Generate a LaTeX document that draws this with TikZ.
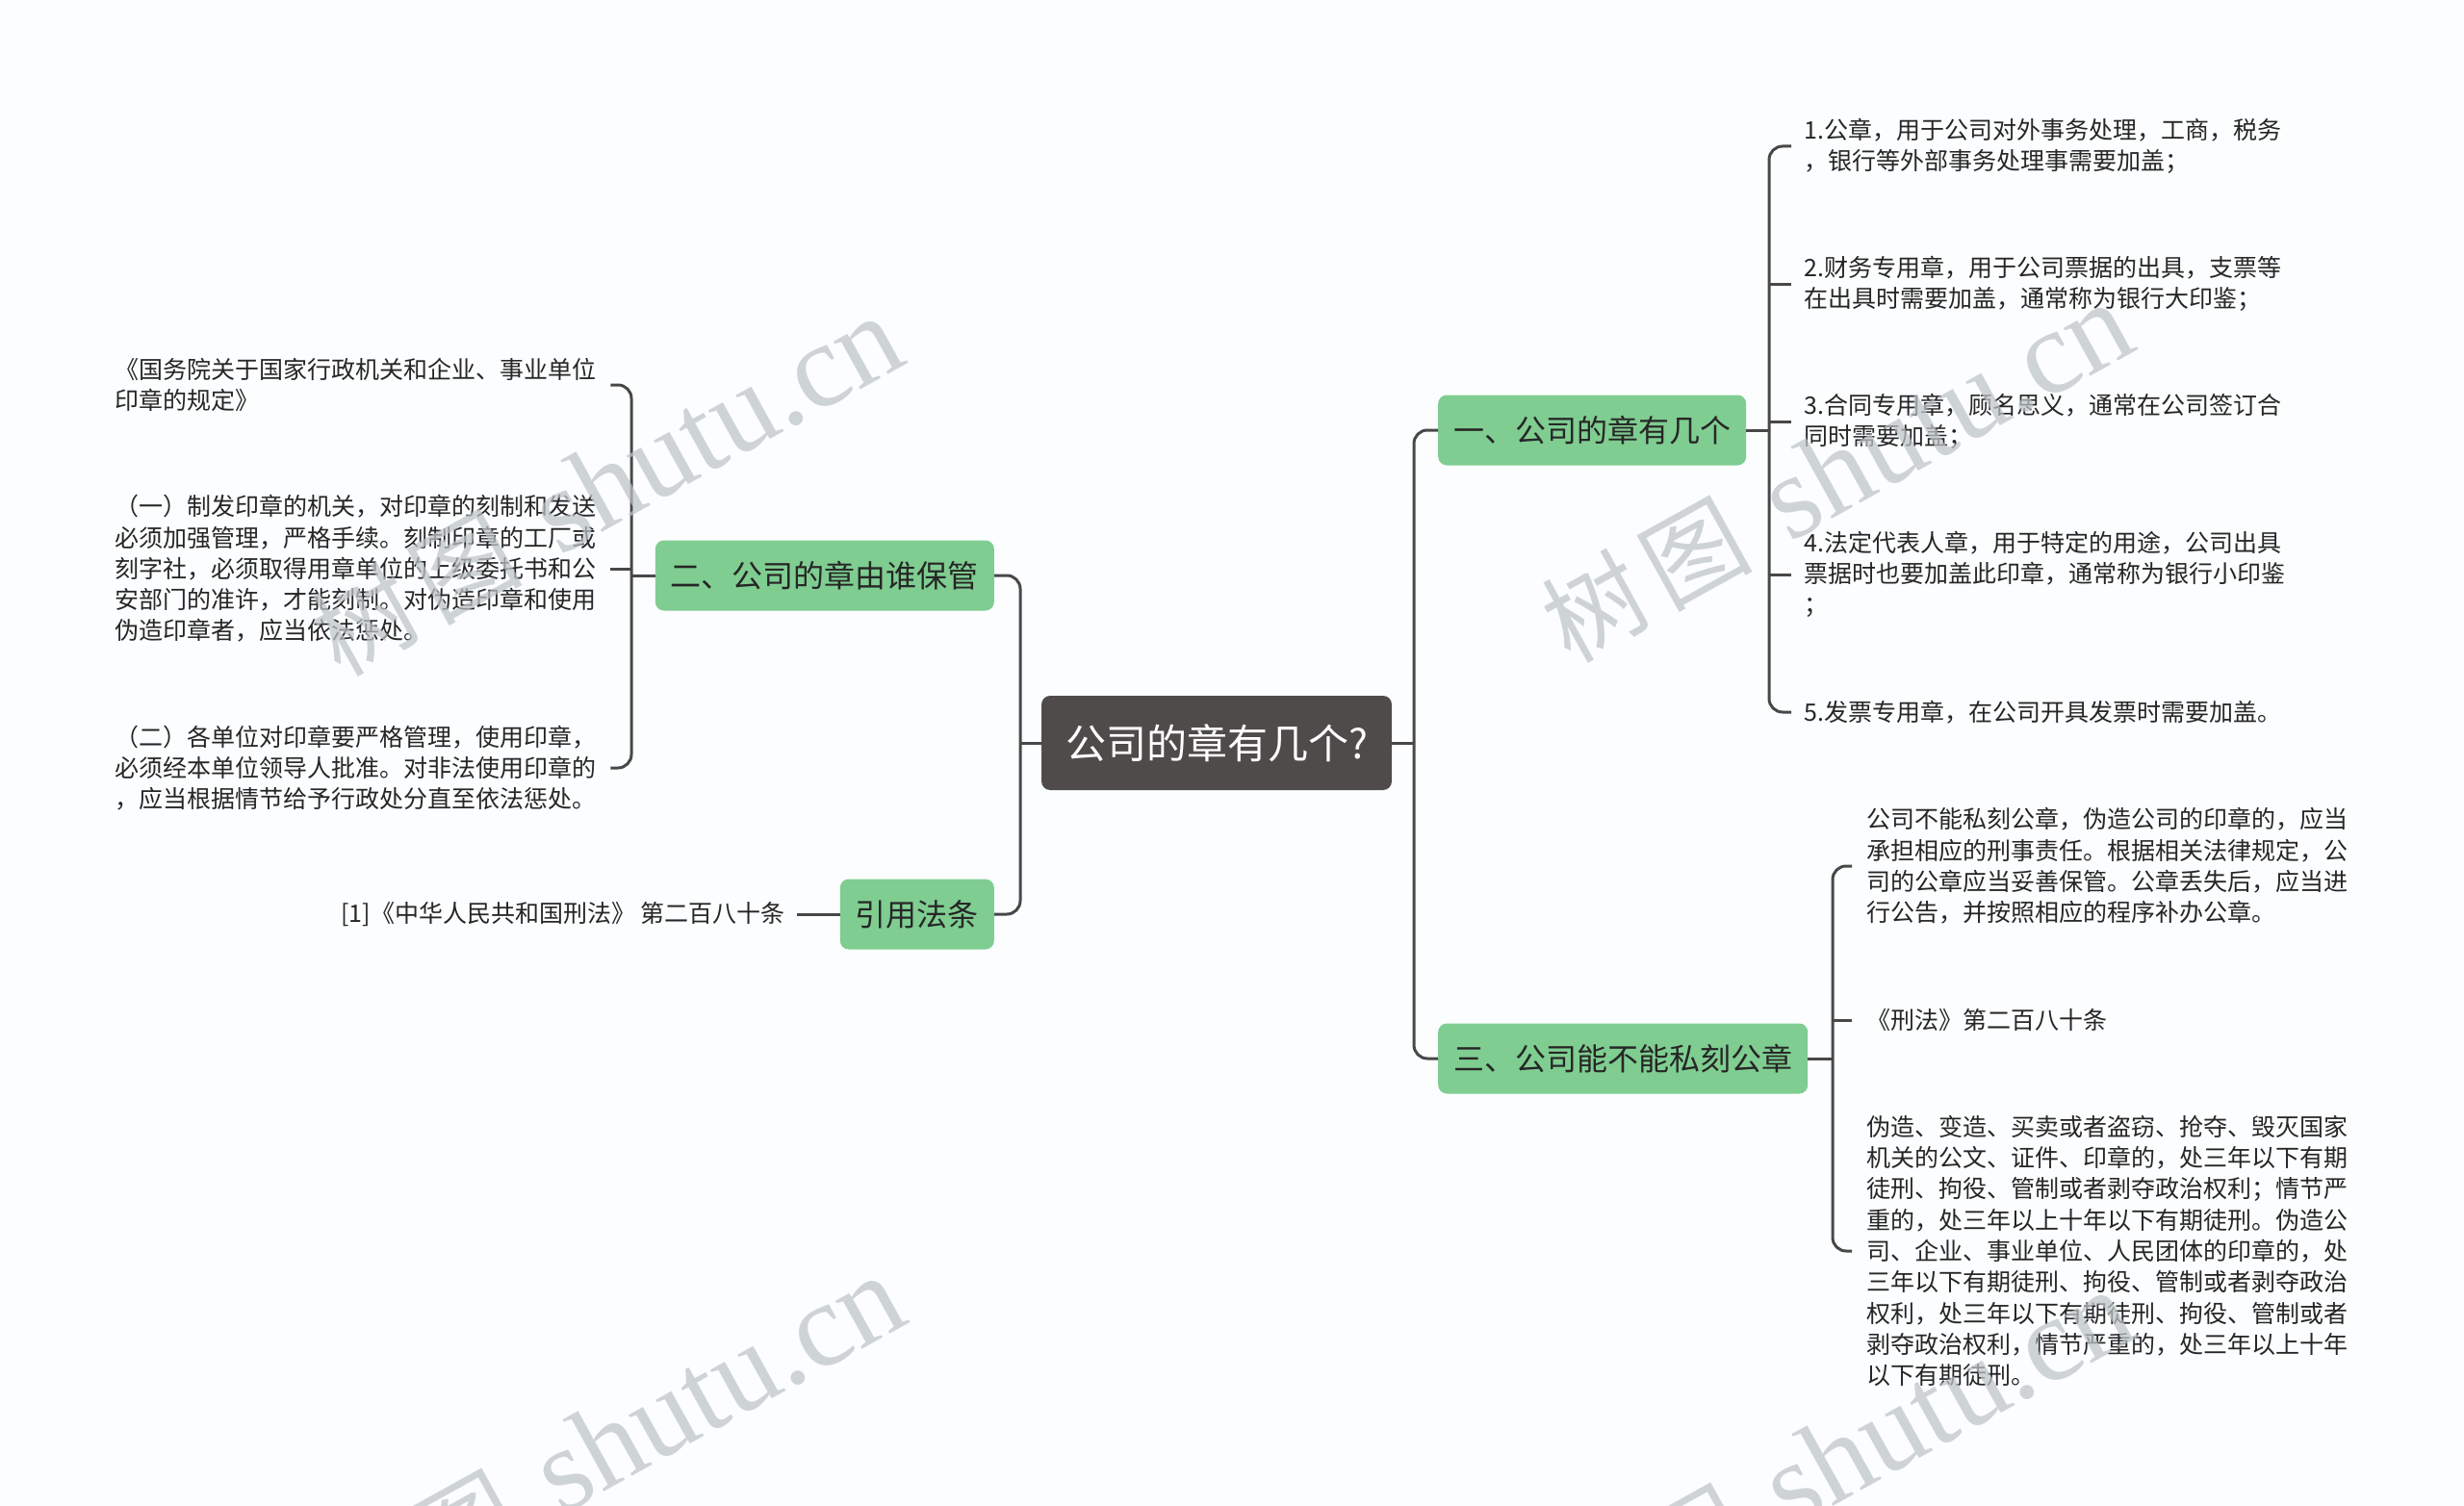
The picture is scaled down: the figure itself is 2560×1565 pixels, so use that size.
\documentclass[tikz,border=0pt]{standalone}
\usepackage{fontspec}
\setmainfont{Noto Sans CJK SC}
\newfontfamily\wmserif{Liberation Serif}
\definecolor{bg}{RGB}{251,253,254}
\definecolor{lin}{RGB}{72,72,72}
\definecolor{gfill}{RGB}{127,205,145}
\definecolor{rfill}{RGB}{80,75,75}
\definecolor{txt}{RGB}{38,38,38}
\definecolor{wm}{RGB}{190,196,199}
\newcommand\wmtext{{\fontsize{104}{104}\selectfont 树\hspace{12pt}图}\hspace{40pt}{\wmserif\fontsize{124}{124}\selectfont shutu.cn}}
\begin{document}
\begin{tikzpicture}[x=1pt,y=-1pt,
  conn/.style={draw=lin, line width=3pt, rounded corners=14pt},
  rootbox/.style={fill=rfill, rounded corners=9pt, text=white, font=\fontsize{42}{42}\selectfont, inner xsep=25pt, minimum height=98pt},
  topic/.style={fill=gfill, rounded corners=9pt, text=txt, font=\fontsize{32}{32}\selectfont, inner xsep=16pt, minimum height=73pt},
  leaf/.style={text=txt, font=\fontsize{25}{32.3}\selectfont, align=left, inner ysep=0pt},
  wmark/.style={text=wm, opacity=0.72, rotate=29, anchor=base east, inner sep=0pt}
]
\fill[bg] (0,0) rectangle (2560,1565);
\useasboundingbox (0,0) rectangle (2560,1565);

% main nodes
\node[rootbox] (root) at (1264,772) {公司的章有几个?};
\node[topic, anchor=west] (t1) at (1494,447) {一、公司的章有几个};
\node[topic, anchor=west] (t3) at (1494,1100) {三、公司能不能私刻公章};
\node[topic, anchor=east] (t2) at (1033,598) {二、公司的章由谁保管};
\node[topic, anchor=east] (t4) at (1033,950) {引用法条};

% leaves of t1
\node[leaf, anchor=west, inner xsep=13pt] (a1) at (1861,152) {1.公章，用于公司对外事务处理，工商，税务\\，银行等外部事务处理事需要加盖；};
\node[leaf, anchor=west, inner xsep=13pt] (a2) at (1861,295) {2.财务专用章，用于公司票据的出具，支票等\\在出具时需要加盖，通常称为银行大印鉴；};
\node[leaf, anchor=west, inner xsep=13pt] (a3) at (1861,438) {3.合同专用章，顾名思义，通常在公司签订合\\同时需要加盖；};
\node[leaf, anchor=west, inner xsep=13pt] (a4) at (1861,597) {4.法定代表人章，用于特定的用途，公司出具\\票据时也要加盖此印章，通常称为银行小印鉴\\；};
\node[leaf, anchor=west, inner xsep=13pt] (a5) at (1861,740) {5.发票专用章，在公司开具发票时需要加盖。};

% leaves of t3
\node[leaf, anchor=west, inner xsep=15pt] (c1) at (1924,900) {公司不能私刻公章，伪造公司的印章的，应当\\承担相应的刑事责任。根据相关法律规定，公\\司的公章应当妥善保管。公章丢失后，应当进\\行公告，并按照相应的程序补办公章。};
\node[leaf, anchor=west, inner xsep=15pt] (c2) at (1924,1060) {《刑法》第二百八十条};
\node[leaf, anchor=west, inner xsep=15pt] (c3) at (1924,1300) {伪造、变造、买卖或者盗窃、抢夺、毁灭国家\\机关的公文、证件、印章的，处三年以下有期\\徒刑、拘役、管制或者剥夺政治权利；情节严\\重的，处三年以上十年以下有期徒刑。伪造公\\司、企业、事业单位、人民团体的印章的，处\\三年以下有期徒刑、拘役、管制或者剥夺政治\\权利，处三年以下有期徒刑、拘役、管制或者\\剥夺政治权利，情节严重的，处三年以上十年\\以下有期徒刑。};

% leaves of t2
\node[leaf, anchor=west, inner xsep=12pt, text width=503pt] (l1) at (107,400) {《国务院关于国家行政机关和企业、事业单位\\印章的规定》};
\node[leaf, anchor=west, inner xsep=12pt, text width=503pt] (l2) at (107,591) {（一）制发印章的机关，对印章的刻制和发送\\必须加强管理，严格手续。刻制印章的工厂或\\刻字社，必须取得用章单位的上级委托书和公\\安部门的准许，才能刻制。对伪造印章和使用\\伪造印章者，应当依法惩处。};
\node[leaf, anchor=west, inner xsep=12pt, text width=503pt] (l3) at (107,798) {（二）各单位对印章要严格管理，使用印章，\\必须经本单位领导人批准。对非法使用印章的\\，应当根据情节给予行政处分直至依法惩处。};

% leaf of t4
\node[leaf, anchor=east, inner xsep=12pt] (r1) at (828,950) {[1]《中华人民共和国刑法》 第二百八十条};

% connectors
\coordinate (rb) at (1469,772);
\coordinate (lb) at (1060,772);
\coordinate (b1) at (1838,447);
\coordinate (b3) at (1904,1100);
\coordinate (b2) at (656,598);

\draw[conn] (root.east) -- (rb);
\draw[conn] (t1.west) -| (rb |- t3.west) -- (t3.west);
\draw[conn] (root.west) -- (lb);
\draw[conn] (t2.east) -| (lb |- t4.east) -- (t4.east);

\draw[conn] (t1.east) -- (b1);
\draw[conn] (a1.west) -| (b1 |- a5.west) -- (a5.west);
\draw[conn] (b1 |- a2.west) -- (a2.west);
\draw[conn] (b1 |- a3.west) -- (a3.west);
\draw[conn] (b1 |- a4.west) -- (a4.west);

\draw[conn] (t3.east) -- (b3);
\draw[conn] (c1.west) -| (b3 |- c3.west) -- (c3.west);
\draw[conn] (b3 |- c2.west) -- (c2.west);

\draw[conn] (t2.west) -- (b2);
\draw[conn] (l1.east) -| (b2 |- l3.east) -- (l3.east);
\draw[conn] (b2 |- l2.east) -- (l2.east);

\draw[conn] (r1.east) -- (t4.west);

% watermarks
\node[wmark] (w1) at (946,376) {\wmtext};
\node[wmark] (w2) at (2224,362) {\wmtext};
\node[wmark] (w3) at (948,1373) {\wmtext};
\node[wmark] (w4) at (2225,1388) {\wmtext};
\end{tikzpicture}
\end{document}
